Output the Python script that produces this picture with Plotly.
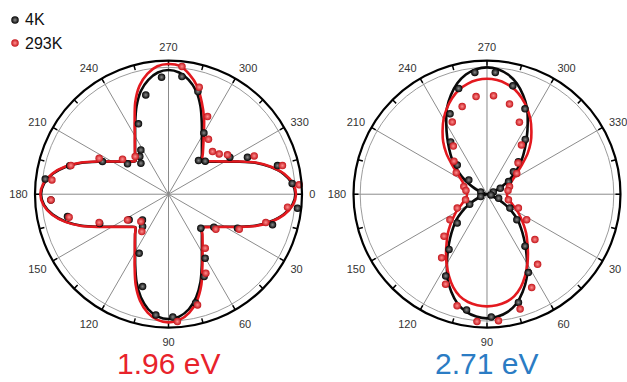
import plotly.graph_objects as go

# ---------------------------------------------------------------- data
FIT_THETA = list(range(0, 360, 5))

# Fitted polarisation curves (normalised intensity), 1.96 eV
LEFT_FIT_4K = [
    0.95, 0.93, 0.875, 0.79, 0.69, 0.577, 0.488, 0.425, 0.38, 0.35,
    0.389, 0.436, 0.50, 0.59, 0.70, 0.80, 0.875, 0.92, 0.935, 0.92,
    0.875, 0.80, 0.70, 0.59, 0.50, 0.436, 0.389, 0.35, 0.38, 0.425,
    0.488, 0.577, 0.69, 0.795, 0.88, 0.935, 0.955, 0.935, 0.88, 0.795,
    0.69, 0.577, 0.488, 0.425, 0.38, 0.35, 0.389, 0.436, 0.50, 0.59,
    0.70, 0.80, 0.87, 0.915, 0.93, 0.915, 0.87, 0.80, 0.70, 0.59,
    0.50, 0.436, 0.389, 0.35, 0.38, 0.425, 0.488, 0.577, 0.69, 0.79,
    0.875, 0.93,
]
LEFT_FIT_293K = [
    0.955, 0.935, 0.88, 0.795, 0.695, 0.58, 0.49, 0.428, 0.383, 0.355,
    0.395, 0.445, 0.51, 0.60, 0.72, 0.825, 0.90, 0.945, 0.96, 0.945,
    0.90, 0.825, 0.72, 0.60, 0.505, 0.44, 0.39, 0.352, 0.382, 0.427,
    0.49, 0.58, 0.695, 0.80, 0.885, 0.94, 0.96, 0.94, 0.885, 0.80,
    0.695, 0.58, 0.49, 0.427, 0.382, 0.352, 0.39, 0.44, 0.505, 0.60,
    0.73, 0.84, 0.915, 0.962, 0.975, 0.965, 0.91, 0.835, 0.73, 0.63,
    0.53, 0.455, 0.40, 0.36, 0.385, 0.43, 0.49, 0.58, 0.695, 0.795,
    0.88, 0.935,
]

# Fitted polarisation curves, 2.71 eV
RIGHT_FIT_4K = [
    0.0, 0.005, 0.01, 0.02, 0.05, 0.10, 0.16, 0.23, 0.30, 0.36,
    0.43, 0.51, 0.60, 0.70, 0.78, 0.85, 0.895, 0.92, 0.93, 0.92,
    0.895, 0.85, 0.78, 0.70, 0.60, 0.51, 0.43, 0.36, 0.30, 0.23,
    0.16, 0.10, 0.05, 0.02, 0.01, 0.005, 0.0, 0.005, 0.01, 0.02,
    0.05, 0.10, 0.16, 0.23, 0.30, 0.37, 0.44, 0.52, 0.61, 0.71,
    0.79, 0.86, 0.91, 0.94, 0.95, 0.94, 0.91, 0.86, 0.79, 0.71,
    0.61, 0.52, 0.44, 0.37, 0.30, 0.23, 0.16, 0.10, 0.05, 0.02,
    0.01, 0.005,
]
RIGHT_FIT_293K = [
    0.15, 0.152, 0.16, 0.175, 0.195, 0.225, 0.268, 0.31, 0.36, 0.415,
    0.47, 0.535, 0.605, 0.675, 0.74, 0.79, 0.82, 0.835, 0.84, 0.835,
    0.82, 0.79, 0.74, 0.675, 0.605, 0.535, 0.47, 0.415, 0.36, 0.31,
    0.268, 0.225, 0.195, 0.175, 0.16, 0.152, 0.15, 0.151, 0.155, 0.163,
    0.175, 0.195, 0.225, 0.27, 0.34, 0.43, 0.51, 0.58, 0.65, 0.71,
    0.765, 0.81, 0.84, 0.858, 0.865, 0.858, 0.84, 0.81, 0.765, 0.71,
    0.65, 0.58, 0.51, 0.43, 0.34, 0.27, 0.225, 0.195, 0.175, 0.163,
    0.155, 0.151,
]

# Measured points, 1.96 eV
LEFT_PTS_4K_THETA = [266.6, 276.5, 257.1, 246.9, 238.0, 232.7, 228.3, 216.5, 206.3,
                     311.7, 328.9, 334.9, 345.3, 6.2, 16.4, 26.2, 46.4, 60.2, 66.6,
                     135.4, 128.8, 116.4, 105.7, 146.9, 167.5, 177.2, 286.0, 300.0,
                     318.0, 355.0, 36.0, 76.0, 88.0, 96.0, 157.0, 187.0, 196.0]
LEFT_PTS_4K_R = [0.878, 0.887, 0.763, 0.573, 0.391, 0.355, 0.311, 0.382, 0.552,
                 0.338, 0.536, 0.653, 0.844, 0.972, 0.812, 0.576, 0.351, 0.552, 0.672,
                 0.274, 0.31, 0.494, 0.718, 0.352, 0.775, 0.882, 0.80, 0.53,
                 0.37, 0.93, 0.42, 0.84, 0.92, 0.91, 0.56, 0.93, 0.77]
LEFT_PTS_293K_THETA = [276.0, 286.0, 296.7, 306.0, 315.9, 321.5, 326.3, 335.9, 345.9,
                       355.9, 6.2, 16.2, 26.3, 36.5, 55.8, 64.7, 75.3, 86.0,
                       125.5, 135.3, 147.9, 157.8, 167.0, 177.2, 187.0, 196.4,
                       207.4, 217.3, 228.5]
LEFT_PTS_293K_R = [0.962, 0.834, 0.651, 0.509, 0.459, 0.485, 0.531, 0.703, 0.88,
                   0.981, 0.897, 0.759, 0.591, 0.441, 0.489, 0.654, 0.857, 0.956,
                   0.344, 0.291, 0.362, 0.561, 0.764, 0.882, 0.88, 0.762,
                   0.585, 0.433, 0.377]

# Measured points, 2.71 eV
RIGHT_PTS_4K_THETA = [264.3, 273.9, 283.4, 294.0, 245.3, 235.2, 224.4, 218.0, 314.1,
                      319.6, 329.7, 336.0, 19.0, 31.0, 40.5, 53.8, 62.2, 73.8,
                      136.0, 124.5, 116.8, 200.0, 160.0, 340.0, 10.0, 150.0,
                      305.0, 255.0, 100.0, 88.0]
RIGHT_PTS_4K_R = [0.917, 0.914, 0.835, 0.70, 0.663, 0.477, 0.312, 0.173, 0.338,
                  0.26, 0.187, 0.109, 0.092, 0.2, 0.294, 0.482, 0.664, 0.844,
                  0.31, 0.502, 0.686, 0.05, 0.05, 0.05, 0.03, 0.15,
                  0.50, 0.82, 0.88, 0.92]
RIGHT_PTS_293K_THETA = [263.6, 273.8, 254.2, 284.0, 244.3, 294.2, 215.0, 198.2, 325.0,
                        341.3, 165.3, 155.0, 145.5, 135.7, 125.5, 114.7, 105.0, 94.5,
                        84.8, 73.9, 64.4, 54.2, 43.4, 32.7, 23.8, 14.7,
                        305.0, 315.0, 235.0, 225.0, 190.0, 350.0]
RIGHT_PTS_293K_R = [0.736, 0.74, 0.683, 0.697, 0.60, 0.592, 0.281, 0.183, 0.272,
                    0.178, 0.166, 0.246, 0.337, 0.45, 0.585, 0.742, 0.865, 0.957,
                    0.951, 0.895, 0.775, 0.648, 0.494, 0.353, 0.257, 0.166,
                    0.45, 0.33, 0.44, 0.35, 0.16, 0.16]

SERIES_NAMES = ["4K", "293K"]
PANEL_LABELS = ["1.96 eV", "2.71 eV"]
SPOKE_ANGLES = list(range(0, 360, 30))
TICK_ANGLES = list(range(0, 360, 15))
LABEL_ANGLES = list(range(0, 360, 30))

# ---------------------------------------------------------------- styling
FONT = "Liberation Sans"
RED = "#e3191f"
BLACK = "#0a0a0a"
LABEL_COLORS = ["#e8232b", "#2b7cc4"]
W, H = 627, 382

MARKER_STYLE = {
    "4K": dict(color="#000000", size=7.5, gradient=dict(type="radial", color="#8a8a8a"),
               line=dict(width=0)),
    "293K": dict(color="#c4141a", size=7.5, gradient=dict(type="radial", color="#ff8f8f"),
                 line=dict(width=0)),
}
LINE_COLOR = {"4K": BLACK, "293K": RED}

DOMAIN_Y = [0.1421, 0.8411]
DOMAINS_X = [[0.0558, 0.4817], [0.5638, 0.9896]]
RADIUS_PX = (DOMAIN_Y[1] - DOMAIN_Y[0]) * H / 2
TICK_IN = 1 - 5 / RADIUS_PX          # inward tick marks, 5 px long
GRID_RING = 0.95                     # inner grey ring


def closed(theta, r):
    return theta + [theta[0] + 360], r + [r[0]]


def segments(angles, r0, r1):
    r, t = [], []
    for a in angles:
        r += [r0, r1, None]
        t += [a, a, None]
    return r, t


def polar_axis(domain_x, hidden_labels=()):
    ticktext = ["" if a in hidden_labels else str(a) for a in LABEL_ANGLES]
    return dict(
        domain=dict(x=domain_x, y=DOMAIN_Y),
        bgcolor="white",
        radialaxis=dict(range=[0, 1], showline=False, showticklabels=False, ticks="",
                        tickmode="array", tickvals=[GRID_RING], showgrid=True,
                        gridcolor="#9c9c9c", gridwidth=1.2),
        angularaxis=dict(direction="clockwise", rotation=0, tickmode="array",
                         tickvals=LABEL_ANGLES, ticktext=ticktext,
                         ticks="outside", ticklen=4, tickcolor="rgba(0,0,0,0)",
                         showline=True, linecolor="black", linewidth=2.2,
                         showgrid=False,
                         tickfont=dict(family=FONT, size=11, color="#333333")),
    )


fig = go.Figure()

panels = [
    ("polar", {"4K": LEFT_FIT_4K, "293K": LEFT_FIT_293K},
     {"4K": (LEFT_PTS_4K_THETA, LEFT_PTS_4K_R), "293K": (LEFT_PTS_293K_THETA, LEFT_PTS_293K_R)}),
    ("polar2", {"4K": RIGHT_FIT_4K, "293K": RIGHT_FIT_293K},
     {"4K": (RIGHT_PTS_4K_THETA, RIGHT_PTS_4K_R), "293K": (RIGHT_PTS_293K_THETA, RIGHT_PTS_293K_R)}),
]

for subplot, fits, pts in panels:
    sr, st = segments(SPOKE_ANGLES, 0, 1)
    fig.add_trace(go.Scatterpolar(r=sr, theta=st, mode="lines", subplot=subplot,
                                  line=dict(color="#8c8c8c", width=1),
                                  hoverinfo="skip", showlegend=False))
    tr, tt = segments(TICK_ANGLES, TICK_IN, 1)
    fig.add_trace(go.Scatterpolar(r=tr, theta=tt, mode="lines", subplot=subplot,
                                  line=dict(color="black", width=1.5),
                                  hoverinfo="skip", showlegend=False))
    for name in SERIES_NAMES:
        t, r = closed(FIT_THETA, fits[name])
        fig.add_trace(go.Scatterpolar(r=r, theta=t, mode="lines", subplot=subplot,
                                      line=dict(color=LINE_COLOR[name], width=2.6,
                                                shape="spline", smoothing=0.8),
                                      showlegend=False))
    for name in SERIES_NAMES:
        t, r = pts[name]
        fig.add_trace(go.Scatterpolar(r=r, theta=t, mode="markers", subplot=subplot,
                                      marker=MARKER_STYLE[name], showlegend=False))

# key in the upper-left corner
KEY_X = 15 / W
KEY_Y = [1 - 20 / H, 1 - 43 / H]
for name, ky in zip(SERIES_NAMES, KEY_Y):
    fig.add_trace(go.Scatter(x=[KEY_X], y=[ky], mode="markers", xaxis="x", yaxis="y",
                             marker=MARKER_STYLE[name], showlegend=False,
                             hoverinfo="skip"))
    fig.add_annotation(x=23 / W, y=ky, xref="paper", yref="paper", text=name,
                       showarrow=False, xanchor="left", yanchor="middle",
                       font=dict(family=FONT, size=16, color="#111111"))

for label, dx, color in zip(PANEL_LABELS, DOMAINS_X, LABEL_COLORS):
    fig.add_annotation(x=(dx[0] + dx[1]) / 2, y=(H - 363) / H, xref="paper", yref="paper",
                       text=label, showarrow=False, xanchor="center", yanchor="middle",
                       font=dict(family=FONT, size=30, color=color))

fig.update_layout(
    width=W, height=H,
    margin=dict(l=0, r=0, t=0, b=0),
    paper_bgcolor="white", plot_bgcolor="white",
    showlegend=False,
    polar=polar_axis(DOMAINS_X[0]),
    # the 0 label of the right-hand panel falls beyond the page edge
    polar2=polar_axis(DOMAINS_X[1], hidden_labels=(0,)),
    xaxis=dict(visible=False, range=[0, 1], domain=[0, 1], fixedrange=True),
    yaxis=dict(visible=False, range=[0, 1], domain=[0, 1], fixedrange=True),
)

fig.write_html("out.html")
